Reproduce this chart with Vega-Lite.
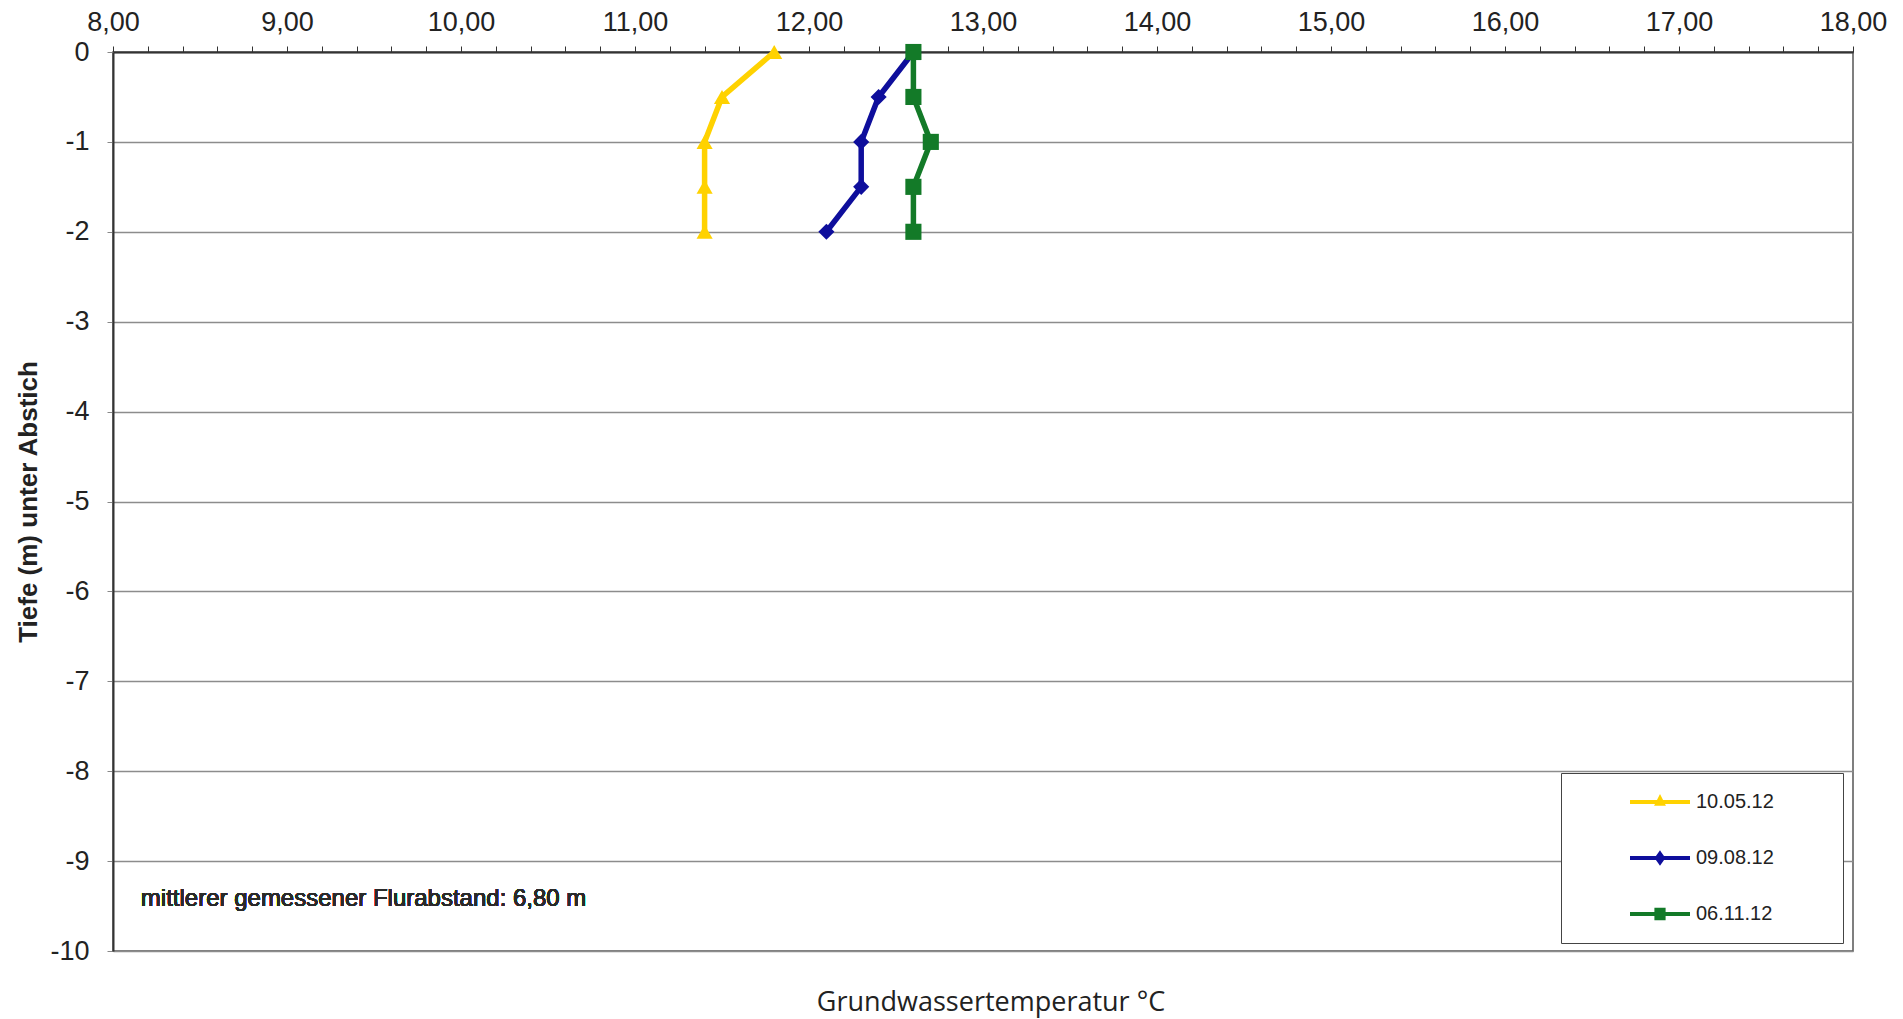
{
  "$schema": "https://vega.github.io/schema/vega-lite/v6.json",
  "width": 1740,
  "height": 899,
  "autosize": "none",
  "padding": {"left": 113, "top": 52, "right": 50, "bottom": 68},
  "background": "white",
  "title": {"text": "Grundwassertemperatur °C", "orient": "bottom", "font": "Open Sans", "fontSize": 27, "fontWeight": "normal", "offset": 26, "dx": 8, "color": "#222222"},
  "config": {
    "font": "Liberation Sans",
    "view": {"stroke": "#555555", "strokeWidth": 1.5}
  },
  "resolve": {"legend": {"color": "independent", "shape": "independent"}},
  "data": {"values": [
    {"datum": "10.05.12", "tiefe": 0, "temp": 11.8},
    {"datum": "10.05.12", "tiefe": -0.5, "temp": 11.5},
    {"datum": "10.05.12", "tiefe": -1, "temp": 11.4},
    {"datum": "10.05.12", "tiefe": -1.5, "temp": 11.4},
    {"datum": "10.05.12", "tiefe": -2, "temp": 11.4},
    {"datum": "09.08.12", "tiefe": 0, "temp": 12.6},
    {"datum": "09.08.12", "tiefe": -0.5, "temp": 12.4},
    {"datum": "09.08.12", "tiefe": -1, "temp": 12.3},
    {"datum": "09.08.12", "tiefe": -1.5, "temp": 12.3},
    {"datum": "09.08.12", "tiefe": -2, "temp": 12.1},
    {"datum": "06.11.12", "tiefe": 0, "temp": 12.6},
    {"datum": "06.11.12", "tiefe": -0.5, "temp": 12.6},
    {"datum": "06.11.12", "tiefe": -1, "temp": 12.7},
    {"datum": "06.11.12", "tiefe": -1.5, "temp": 12.6},
    {"datum": "06.11.12", "tiefe": -2, "temp": 12.6}
  ]},
  "encoding": {
    "x": {
      "field": "temp", "type": "quantitative",
      "scale": {"domain": [8, 18], "nice": false, "zero": false},
      "axis": {
        "orient": "top", "title": null, "grid": false,
        "values": [8, 8.2, 8.4, 8.6, 8.8, 9, 9.2, 9.4, 9.6, 9.8, 10, 10.2, 10.4, 10.6, 10.8, 11, 11.2, 11.4, 11.6, 11.8, 12, 12.2, 12.4, 12.6, 12.8, 13, 13.2, 13.4, 13.6, 13.8, 14, 14.2, 14.4, 14.6, 14.8, 15, 15.2, 15.4, 15.6, 15.8, 16, 16.2, 16.4, 16.6, 16.8, 17, 17.2, 17.4, 17.6, 17.8, 18],
        "labelExpr": "abs(datum.value - round(datum.value)) < 0.001 ? replace(format(datum.value, '.2f'), '.', ',') : ''",
        "labelOverlap": false, "labelFlush": false, "labelFontSize": 27, "labelColor": "#222222", "labelPadding": 10,
        "tickSize": 6, "tickColor": "#333333", "tickWidth": 1,
        "domainColor": "#333333", "domainWidth": 2
      }
    },
    "y": {
      "field": "tiefe", "type": "quantitative",
      "scale": {"domain": [-10, 0], "nice": false, "zero": false},
      "axis": {
        "title": "Tiefe (m) unter Abstich", "titleFontSize": 26, "titleFontWeight": "bold", "titleColor": "#222222", "titlePadding": 8,
        "values": [-10, -9, -8, -7, -6, -5, -4, -3, -2, -1, 0],
        "labelExpr": "'' + datum.value",
        "labelFlush": false,
        "labelFontSize": 27, "labelColor": "#222222", "labelPadding": 18,
        "tickSize": 6, "tickColor": "#888888",
        "grid": true, "gridColor": "#8c8c8c", "gridWidth": 1.5,
        "domainColor": "#333333", "domainWidth": 2
      }
    }
  },
  "layer": [
    {
      "mark": {"type": "line", "strokeWidth": 5.5},
      "encoding": {
        "order": {"field": "tiefe", "type": "quantitative", "sort": "descending"},
        "color": {
          "field": "datum", "type": "nominal",
          "scale": {"domain": ["10.05.12", "09.08.12", "06.11.12"], "range": ["#FFD200", "#0E0E9C", "#137A28"]},
          "legend": {
            "title": null, "orient": "none", "legendX": 1448, "legendY": 721, "direction": "vertical",
            "symbolType": "stroke", "symbolSize": 3600, "symbolStrokeWidth": 4,
            "clipHeight": 20, "rowPadding": 36, "padding": 19, "symbolOffset": 48,
            "labelOffset": 4, "labelFontSize": 20, "labelColor": "#222222", "labelFont": "Liberation Sans",
            "strokeColor": "#444444", "fillColor": "white",
            "labelExpr": "datum.label + '\u00a0\u00a0\u00a0\u00a0\u00a0\u00a0\u00a0\u00a0\u00a0\u200b'",
            "encode": {
              "symbols": {
                "update": {
                  "shape": {"signal": "datum.value === '10.05.12' ? 'M-1,0H1M0,-0.12L0.09,0.06H-0.09Z' : datum.value === '09.08.12' ? 'M-1,0H1M0,-0.14L0.1,0L0,0.14L-0.1,0Z' : 'M-1,0H1M-0.12,-0.14H0.12V0.14H-0.12Z'"},
                  "size": {"value": 3600},
                  "stroke": {"scale": "color", "field": "value"},
                  "fill": {"scale": "color", "field": "value"},
                  "strokeWidth": {"value": 4},
                  "opacity": {"value": 1}
                }
              }
            }
          }
        }
      }
    },
    {
      "mark": {"type": "point", "filled": true, "opacity": 1, "size": 260},
      "encoding": {
        "color": {"field": "datum", "type": "nominal", "legend": null,
          "scale": {"domain": ["10.05.12", "09.08.12", "06.11.12"], "range": ["#FFD200", "#0E0E9C", "#137A28"]}},
        "shape": {"field": "datum", "type": "nominal", "legend": null,
          "scale": {"domain": ["10.05.12", "09.08.12", "06.11.12"], "range": ["triangle-up", "diamond", "square"]}}
      }
    },
    {
      "mark": {"type": "text", "align": "left", "baseline": "middle", "fontSize": 24, "fontWeight": "normal", "font": "Liberation Sans", "fill": "#2a2a2a", "strokeWidth": 0},
      "encoding": {
        "x": {"datum": 8.16},
        "y": {"datum": -9.42},
        "text": {"value": "mittlerer gemessener Flurabstand: 6,80 m"}
      }
    }
  ]
}
